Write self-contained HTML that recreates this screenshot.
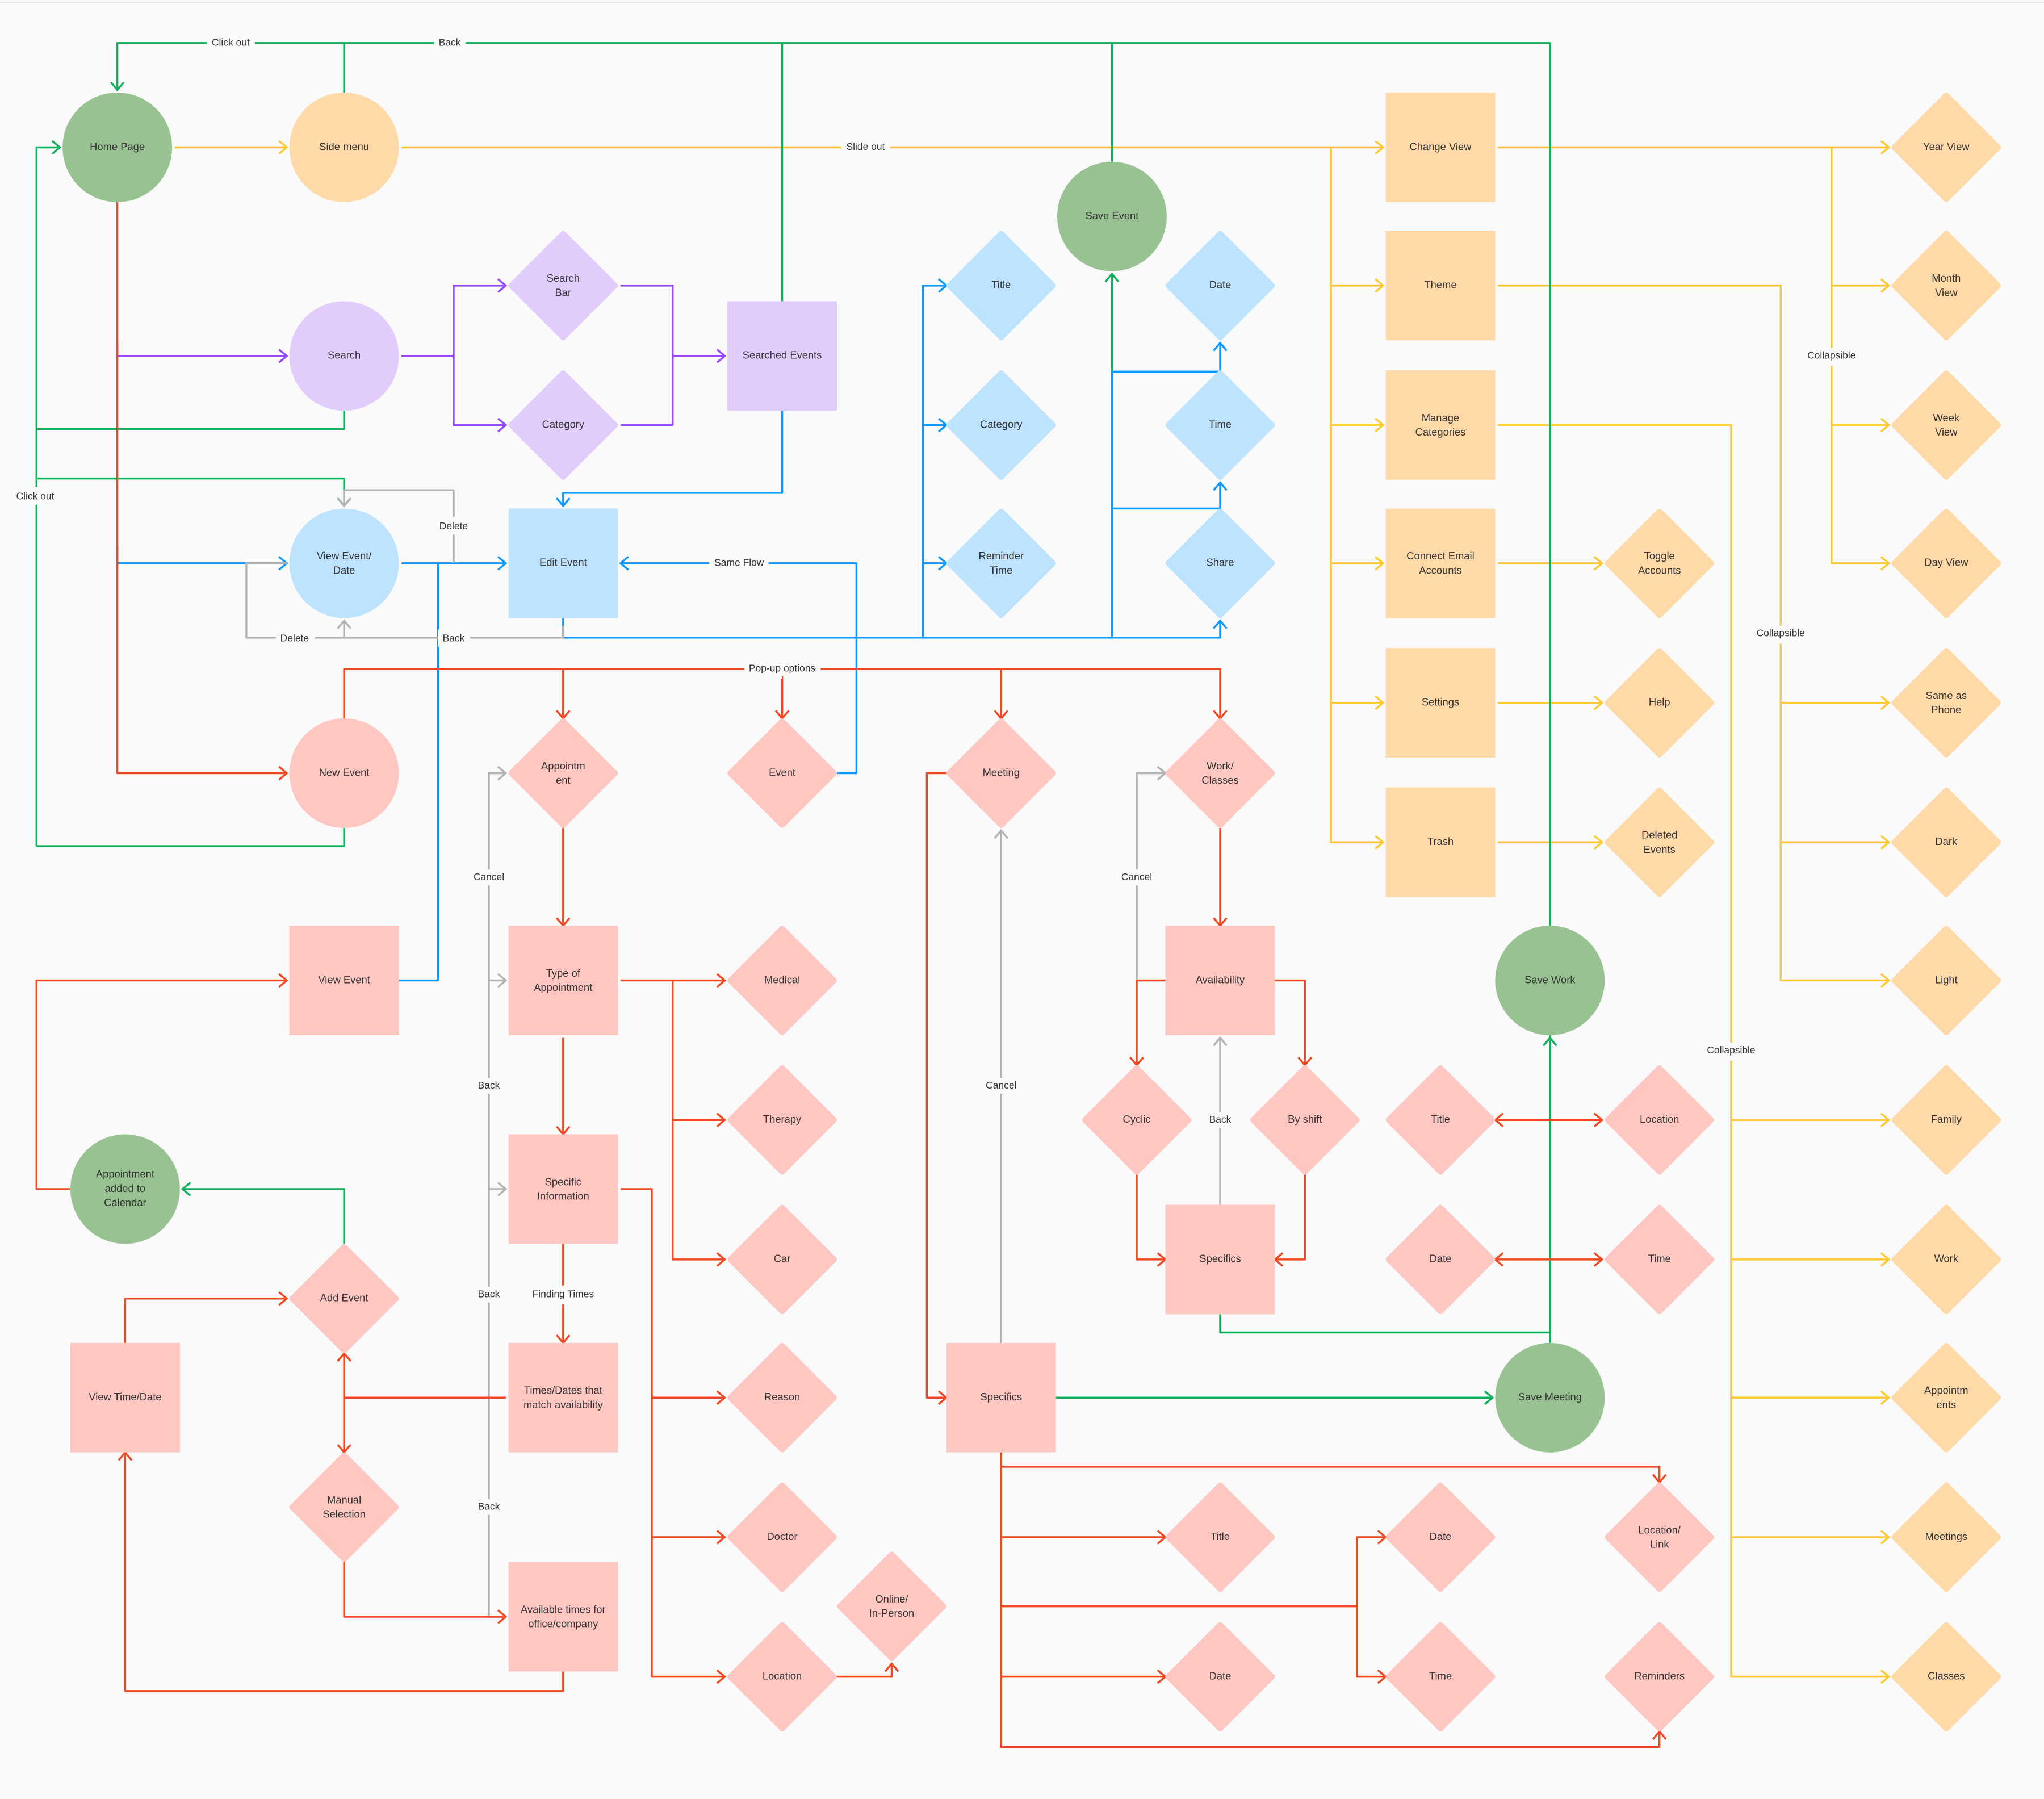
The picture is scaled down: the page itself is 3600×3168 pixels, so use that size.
<!DOCTYPE html>
<html><head><meta charset="utf-8"><style>
html,body{margin:0;padding:0;background:#fafafa;}
svg{display:block;}
text{font-family:"Liberation Sans",sans-serif;fill:#333;}
.n{font-size:8px;text-anchor:middle;dominant-baseline:middle;}
.l{font-size:7.6px;text-anchor:middle;dominant-baseline:middle;paint-order:stroke;stroke:#fafafa;stroke-width:8px;}
path.y,path.g,path.p,path.b,path.r,path.k{fill:none;stroke-width:1.5;stroke-linejoin:round;}
.y{stroke:#FFC933}.g{stroke:#14AE5C}.p{stroke:#9747FF}.b{stroke:#0D99FF}.r{stroke:#F24822}.k{stroke:#B3B3B3}
</style></head><body>
<svg width="3600" height="3168" viewBox="0 0 1568 1379.8" xmlns="http://www.w3.org/2000/svg">
<defs>
<marker id="mY" markerWidth="10" markerHeight="12" viewBox="-8 -6 10 12" refX="0" refY="0" orient="auto" markerUnits="userSpaceOnUse"><path d="M-6,-5 L0,0 L-6,5" stroke="#FFC933" stroke-width="1.5" fill="none"/></marker>
<marker id="mG" markerWidth="10" markerHeight="12" viewBox="-8 -6 10 12" refX="0" refY="0" orient="auto" markerUnits="userSpaceOnUse"><path d="M-6,-5 L0,0 L-6,5" stroke="#14AE5C" stroke-width="1.5" fill="none"/></marker>
<marker id="mP" markerWidth="10" markerHeight="12" viewBox="-8 -6 10 12" refX="0" refY="0" orient="auto" markerUnits="userSpaceOnUse"><path d="M-6,-5 L0,0 L-6,5" stroke="#9747FF" stroke-width="1.5" fill="none"/></marker>
<marker id="mB" markerWidth="10" markerHeight="12" viewBox="-8 -6 10 12" refX="0" refY="0" orient="auto" markerUnits="userSpaceOnUse"><path d="M-6,-5 L0,0 L-6,5" stroke="#0D99FF" stroke-width="1.5" fill="none"/></marker>
<marker id="mR" markerWidth="10" markerHeight="12" viewBox="-8 -6 10 12" refX="0" refY="0" orient="auto" markerUnits="userSpaceOnUse"><path d="M-6,-5 L0,0 L-6,5" stroke="#F24822" stroke-width="1.5" fill="none"/></marker>
<marker id="mK" markerWidth="10" markerHeight="12" viewBox="-8 -6 10 12" refX="0" refY="0" orient="auto" markerUnits="userSpaceOnUse"><path d="M-6,-5 L0,0 L-6,5" stroke="#B3B3B3" stroke-width="1.5" fill="none"/></marker>
<path id="D" d="M0,-40 L40,0 L0,40 L-40,0Z" stroke-width="4" stroke-linejoin="round"/>
<rect id="R" x="-42" y="-42" width="84" height="84"/>
</defs>
<rect x="0" y="0" width="1568" height="1380" fill="#fafafa"/>
<line x1="0" y1="2" x2="1568" y2="2" stroke="#e6e6e6" stroke-width="1"/>

<!-- yellow -->
<g marker-end="url(#mY)">
<path class="y" d="M134,113 H220"/>
<path class="y" d="M308,113 H1061"/>
<path class="y" d="M1021,113 V646 H1061"/>
<path class="y" d="M1021,219 H1061"/><path class="y" d="M1021,326 H1061"/><path class="y" d="M1021,432 H1061"/><path class="y" d="M1021,539 H1061"/>
<path class="y" d="M1149,113 H1449"/>
<path class="y" d="M1405,113 V432 H1449"/><path class="y" d="M1405,219 H1449"/><path class="y" d="M1405,326 H1449"/>
<path class="y" d="M1149,219 H1366 V752 H1449"/><path class="y" d="M1366,539 H1449"/><path class="y" d="M1366,646 H1449"/>
<path class="y" d="M1149,326 H1328 V1286 H1449"/><path class="y" d="M1328,859 H1449"/><path class="y" d="M1328,966 H1449"/><path class="y" d="M1328,1072 H1449"/><path class="y" d="M1328,1179 H1449"/>
<path class="y" d="M1149,432 H1229"/><path class="y" d="M1149,539 H1229"/><path class="y" d="M1149,646 H1229"/>
</g>

<!-- green -->
<path class="g" d="M264,71 V33 H90 V69" marker-end="url(#mG)"/>
<path class="g" d="M264,33 H1189 V1030"/>
<path class="g" d="M600,231 V33"/><path class="g" d="M853,124 V33"/>
<path class="g" d="M936,1008 V1022 H1189 V796" marker-end="url(#mG)"/>
<path class="g" d="M264,315 V329 H28 V113 H46" marker-end="url(#mG)"/>
<path class="g" d="M28,329 V649"/>
<path class="g" d="M28,367 H264 V388" marker-end="url(#mG)"/>
<path class="g" d="M264,635 V649 H28"/>
<path class="g" d="M264,954 V912 H140" marker-end="url(#mG)"/>
<path class="g" d="M810,1072 H1145" marker-end="url(#mG)"/>
<path class="g" d="M853,290 V210" marker-end="url(#mG)"/>

<!-- purple -->
<g marker-end="url(#mP)">
<path class="p" d="M90,262 V273 H220"/>
<path class="p" d="M308,273 H348 V219 H388"/>
<path class="p" d="M348,273 V326 H388"/>
<path class="p" d="M476,219 H516 V273 H556"/>
</g>
<path class="p" d="M476,326 H516 V273"/>

<!-- blue -->
<path class="b" d="M90,420 V432 H220" marker-end="url(#mB)"/>
<path class="b" d="M308,432 H388" marker-end="url(#mB)"/>
<path class="b" d="M600,315 V378 H432 V388" marker-end="url(#mB)"/>
<path class="b" d="M642,593 H657 V432 H476" marker-end="url(#mB)"/>
<path class="b" d="M306,752 H336 V432"/>
<path class="b" d="M432,474 V489 H936 V476" marker-end="url(#mB)"/>
<path class="b" d="M708,489 V219 H726" marker-end="url(#mB)"/>
<path class="b" d="M708,326 H726" marker-end="url(#mB)"/>
<path class="b" d="M708,432 H726" marker-end="url(#mB)"/>
<path class="b" d="M853,489 V285 H936 V263" marker-end="url(#mB)"/>
<path class="b" d="M853,390 H936 V370" marker-end="url(#mB)"/>

<!-- gray -->
<path class="k" d="M348,432 V376 H264 V388" marker-end="url(#mK)"/>
<path class="k" d="M432,480 V489 H264 V476" marker-end="url(#mK)"/>
<path class="k" d="M220,432 H189 V489 H264"/>
<path class="k" d="M388,1240 H375 V593 H388" marker-end="url(#mK)"/>
<path class="k" d="M375,752 H388" marker-end="url(#mK)"/>
<path class="k" d="M375,912 H388" marker-end="url(#mK)"/>
<path class="k" d="M768,1030 V637" marker-end="url(#mK)"/>
<path class="k" d="M894,752 H872 V593 H894" marker-end="url(#mK)"/>
<path class="k" d="M936,924 V796" marker-end="url(#mK)"/>

<!-- red -->
<g marker-end="url(#mR)">
<path class="r" d="M90,155 V593 H220"/>
<path class="r" d="M264,551 V513 H936 V551"/>
<path class="r" d="M432,513 V551"/><path class="r" d="M600,513 V551"/><path class="r" d="M768,513 V551"/>
<path class="r" d="M432,635 V710"/>
<path class="r" d="M476,752 H556"/><path class="r" d="M516,752 V966 H556"/><path class="r" d="M516,859 H556"/>
<path class="r" d="M432,796 V870"/>
<path class="r" d="M476,912 H500 V1286 H556"/><path class="r" d="M500,1072 H556"/><path class="r" d="M500,1179 H556"/>
<path class="r" d="M432,954 V1030"/>
<path class="r" d="M642,1286 H684 V1276"/>
<path class="r" d="M388,1072 H264 V1038"/><path class="r" d="M264,1072 V1114"/>
<path class="r" d="M264,1198 V1240 H388"/>
<path class="r" d="M432,1282 V1297 H96 V1114"/>
<path class="r" d="M96,1030 V996 H220"/>
<path class="r" d="M54,912 H28 V752 H220"/>
<path class="r" d="M726,593 H711 V1072 H726"/>
<path class="r" d="M768,1114 V1340 H1273 V1328"/>
<path class="r" d="M768,1125 H1273 V1137"/>
<path class="r" d="M768,1179 H894"/>
<path class="r" d="M768,1232 H1041 V1179 H1063"/>
<path class="r" d="M1041,1232 V1286 H1063"/>
<path class="r" d="M768,1286 H894"/>
<path class="r" d="M936,635 V710"/>
<path class="r" d="M894,752 H872 V817"/>
<path class="r" d="M978,752 H1001 V817"/>
<path class="r" d="M872,901 V966 H894"/>
<path class="r" d="M1001,901 V966 H978"/>
<path class="r" d="M1189,859 H1147"/><path class="r" d="M1189,859 H1229"/>
<path class="r" d="M1189,966 H1147"/><path class="r" d="M1189,966 H1229"/>
</g>

<!-- edge labels -->
<text class="l" x="177" y="33">Click out</text>
<text class="l" x="345" y="33">Back</text>
<text class="l" x="664" y="113">Slide out</text>
<text class="l" x="1405" y="273">Collapsible</text>
<text class="l" x="1366" y="486">Collapsible</text>
<text class="l" x="1328" y="806">Collapsible</text>
<text class="l" x="27" y="381">Click out</text>
<text class="l" x="348" y="404">Delete</text>
<text class="l" x="226" y="490">Delete</text>
<text class="l" x="348" y="490">Back</text>
<text class="l" x="567" y="432">Same Flow</text>
<text class="l" x="600" y="513">Pop-up options</text>
<text class="l" x="375" y="673">Cancel</text>
<text class="l" x="375" y="833">Back</text>
<text class="l" x="375" y="993">Back</text>
<text class="l" x="375" y="1156">Back</text>
<text class="l" x="432" y="993">Finding Times</text>
<text class="l" x="768" y="833">Cancel</text>
<text class="l" x="872" y="673">Cancel</text>
<text class="l" x="936" y="859">Back</text>

<!-- circles -->
<g>
<circle cx="90" cy="113" r="42" fill="#98C292"/>
<circle cx="264" cy="113" r="42" fill="#FFDAA8"/>
<circle cx="853" cy="166" r="42" fill="#98C292"/>
<circle cx="264" cy="273" r="42" fill="#E2CCFC"/>
<circle cx="264" cy="432" r="42" fill="#BDE3FF"/>
<circle cx="264" cy="593" r="42" fill="#FFC7C2"/>
<circle cx="96" cy="912" r="42" fill="#98C292"/>
<circle cx="1189" cy="752" r="42" fill="#98C292"/>
<circle cx="1189" cy="1072" r="42" fill="#98C292"/>
</g>
<!-- rects -->
<g fill="#FFDAA8">
<use href="#R" x="1105" y="113"/><use href="#R" x="1105" y="219"/><use href="#R" x="1105" y="326"/>
<use href="#R" x="1105" y="432"/><use href="#R" x="1105" y="539"/><use href="#R" x="1105" y="646"/>
</g>
<use href="#R" x="600" y="273" fill="#E2CCFC"/>
<use href="#R" x="432" y="432" fill="#BDE3FF"/>
<g fill="#FFC7C2">
<use href="#R" x="264" y="752"/><use href="#R" x="432" y="752"/><use href="#R" x="432" y="912"/>
<use href="#R" x="432" y="1072"/><use href="#R" x="432" y="1240"/><use href="#R" x="96" y="1072"/>
<use href="#R" x="936" y="752"/><use href="#R" x="936" y="966"/><use href="#R" x="768" y="1072"/>
</g>
<!-- diamonds -->
<g fill="#FFDAA8" stroke="#FFDAA8">
<use href="#D" x="1493" y="113"/><use href="#D" x="1493" y="219"/><use href="#D" x="1493" y="326"/><use href="#D" x="1493" y="432"/>
<use href="#D" x="1493" y="539"/><use href="#D" x="1493" y="646"/><use href="#D" x="1493" y="752"/><use href="#D" x="1493" y="859"/>
<use href="#D" x="1493" y="966"/><use href="#D" x="1493" y="1072"/><use href="#D" x="1493" y="1179"/><use href="#D" x="1493" y="1286"/>
<use href="#D" x="1273" y="432"/><use href="#D" x="1273" y="539"/><use href="#D" x="1273" y="646"/>
</g>
<g fill="#E2CCFC" stroke="#E2CCFC">
<use href="#D" x="432" y="219"/><use href="#D" x="432" y="326"/>
</g>
<g fill="#BDE3FF" stroke="#BDE3FF">
<use href="#D" x="768" y="219"/><use href="#D" x="768" y="326"/><use href="#D" x="768" y="432"/>
<use href="#D" x="936" y="219"/><use href="#D" x="936" y="326"/><use href="#D" x="936" y="432"/>
</g>
<g fill="#FFC7C2" stroke="#FFC7C2">
<use href="#D" x="432" y="593"/><use href="#D" x="600" y="593"/><use href="#D" x="768" y="593"/><use href="#D" x="936" y="593"/>
<use href="#D" x="600" y="752"/><use href="#D" x="600" y="859"/><use href="#D" x="600" y="966"/><use href="#D" x="600" y="1072"/>
<use href="#D" x="600" y="1179"/><use href="#D" x="600" y="1286"/><use href="#D" x="684" y="1232"/>
<use href="#D" x="264" y="996"/><use href="#D" x="264" y="1156"/>
<use href="#D" x="872" y="859"/><use href="#D" x="1001" y="859"/>
<use href="#D" x="1105" y="859"/><use href="#D" x="1273" y="859"/><use href="#D" x="1105" y="966"/><use href="#D" x="1273" y="966"/>
<use href="#D" x="936" y="1179"/><use href="#D" x="1105" y="1179"/><use href="#D" x="1273" y="1179"/>
<use href="#D" x="936" y="1286"/><use href="#D" x="1105" y="1286"/><use href="#D" x="1273" y="1286"/>
</g>

<!-- node labels -->
<g>
<text class="n" x="90" y="113">Home Page</text>
<text class="n" x="264" y="113">Side menu</text>
<text class="n" x="853" y="166">Save Event</text>
<text class="n" x="264" y="273">Search</text>
<text class="n" x="264" y="427">View Event/</text><text class="n" x="264" y="438">Date</text>
<text class="n" x="264" y="593">New Event</text>
<text class="n" x="96" y="901">Appointment</text><text class="n" x="96" y="912">added to</text><text class="n" x="96" y="923">Calendar</text>
<text class="n" x="1189" y="752">Save Work</text>
<text class="n" x="1189" y="1072">Save Meeting</text>
<text class="n" x="1105" y="113">Change View</text>
<text class="n" x="1105" y="219">Theme</text>
<text class="n" x="1105" y="321">Manage</text><text class="n" x="1105" y="332">Categories</text>
<text class="n" x="1105" y="427">Connect Email</text><text class="n" x="1105" y="438">Accounts</text>
<text class="n" x="1105" y="539">Settings</text>
<text class="n" x="1105" y="646">Trash</text>
<text class="n" x="600" y="273">Searched Events</text>
<text class="n" x="432" y="432">Edit Event</text>
<text class="n" x="264" y="752">View Event</text>
<text class="n" x="432" y="747">Type of</text><text class="n" x="432" y="758">Appointment</text>
<text class="n" x="432" y="907">Specific</text><text class="n" x="432" y="918">Information</text>
<text class="n" x="432" y="1067">Times/Dates that</text><text class="n" x="432" y="1078">match availability</text>
<text class="n" x="432" y="1235">Available times for</text><text class="n" x="432" y="1246">office/company</text>
<text class="n" x="96" y="1072">View Time/Date</text>
<text class="n" x="936" y="752">Availability</text>
<text class="n" x="936" y="966">Specifics</text>
<text class="n" x="768" y="1072">Specifics</text>
<text class="n" x="1493" y="113">Year View</text>
<text class="n" x="1493" y="214">Month</text><text class="n" x="1493" y="225">View</text>
<text class="n" x="1493" y="321">Week</text><text class="n" x="1493" y="332">View</text>
<text class="n" x="1493" y="432">Day View</text>
<text class="n" x="1493" y="534">Same as</text><text class="n" x="1493" y="545">Phone</text>
<text class="n" x="1493" y="646">Dark</text>
<text class="n" x="1493" y="752">Light</text>
<text class="n" x="1493" y="859">Family</text>
<text class="n" x="1493" y="966">Work</text>
<text class="n" x="1493" y="1067">Appointm</text><text class="n" x="1493" y="1078">ents</text>
<text class="n" x="1493" y="1179">Meetings</text>
<text class="n" x="1493" y="1286">Classes</text>
<text class="n" x="1273" y="427">Toggle</text><text class="n" x="1273" y="438">Accounts</text>
<text class="n" x="1273" y="539">Help</text>
<text class="n" x="1273" y="641">Deleted</text><text class="n" x="1273" y="652">Events</text>
<text class="n" x="432" y="214">Search</text><text class="n" x="432" y="225">Bar</text>
<text class="n" x="432" y="326">Category</text>
<text class="n" x="768" y="219">Title</text>
<text class="n" x="768" y="326">Category</text>
<text class="n" x="768" y="427">Reminder</text><text class="n" x="768" y="438">Time</text>
<text class="n" x="936" y="219">Date</text>
<text class="n" x="936" y="326">Time</text>
<text class="n" x="936" y="432">Share</text>
<text class="n" x="432" y="588">Appointm</text><text class="n" x="432" y="599">ent</text>
<text class="n" x="600" y="593">Event</text>
<text class="n" x="768" y="593">Meeting</text>
<text class="n" x="936" y="588">Work/</text><text class="n" x="936" y="599">Classes</text>
<text class="n" x="600" y="752">Medical</text>
<text class="n" x="600" y="859">Therapy</text>
<text class="n" x="600" y="966">Car</text>
<text class="n" x="600" y="1072">Reason</text>
<text class="n" x="600" y="1179">Doctor</text>
<text class="n" x="600" y="1286">Location</text>
<text class="n" x="684" y="1227">Online/</text><text class="n" x="684" y="1238">In-Person</text>
<text class="n" x="264" y="996">Add Event</text>
<text class="n" x="264" y="1151">Manual</text><text class="n" x="264" y="1162">Selection</text>
<text class="n" x="872" y="859">Cyclic</text>
<text class="n" x="1001" y="859">By shift</text>
<text class="n" x="1105" y="859">Title</text>
<text class="n" x="1273" y="859">Location</text>
<text class="n" x="1105" y="966">Date</text>
<text class="n" x="1273" y="966">Time</text>
<text class="n" x="936" y="1179">Title</text>
<text class="n" x="1105" y="1179">Date</text>
<text class="n" x="1273" y="1174">Location/</text><text class="n" x="1273" y="1185">Link</text>
<text class="n" x="936" y="1286">Date</text>
<text class="n" x="1105" y="1286">Time</text>
<text class="n" x="1273" y="1286">Reminders</text>
</g>
</svg>
</body></html>
